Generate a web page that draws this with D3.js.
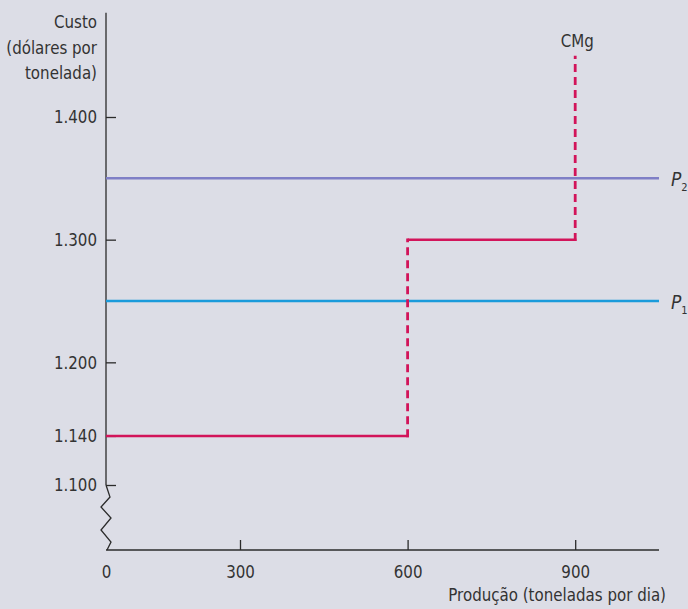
<!DOCTYPE html>
<html><head><meta charset="utf-8">
<script src="https://cdn.jsdelivr.net/npm/d3@7"></script>
<style>
html,body{margin:0;padding:0;background:#dcdde6;}
svg{display:block;}
text{font-family:"Liberation Sans Narrow","DejaVu Sans Condensed","Liberation Sans",sans-serif;fill:#333;}
</style></head><body>
<script>
// Data
const xTicks = [0, 300, 600, 900];
const xTickLabels = ["0", "300", "600", "900"];
const yTicks = [1.100, 1.140, 1.200, 1.300, 1.400];
const yTickLabels = ["1.100", "1.140", "1.200", "1.300", "1.400"];
const priceNames = ["P2", "P1"];
const priceValues = [1.350, 1.250];
const mcX = [0, 600, 900];          // step starts
const mcY = [1.140, 1.300, 1.450];  // marginal cost levels

const W = 688, H = 609;
const svg = d3.select("body").append("svg").attr("width", W).attr("height", H);

// x axis has a compressed first segment (origin labelled 0)
const x = d3.scaleLinear().domain([0, 300, 1050]).range([106, 240, 659]);
const y = d3.scaleLinear().domain([1.1, 1.4]).range([485, 117]);
const yTop = 1.485, yAxisBottom = 550;

const ink = "#2b2b2b";

// y axis line (above break)
svg.append("line").attr("x1", x(0)).attr("x2", x(0)).attr("y1", y(yTop)).attr("y2", y(1.1))
  .attr("stroke", ink).attr("stroke-width", 1.3);
// zigzag break
const zz = [[0,0],[4,12],[-5,22],[5,33],[-5,45],[5,57],[1,65]];
svg.append("path")
  .attr("d", d3.line()(zz.map(p => [x(0) + p[0], y(1.1) + p[1]])))
  .attr("fill", "none").attr("stroke", ink).attr("stroke-width", 1.3);

// x axis
const xAxis = d3.axisBottom(x).tickValues(xTicks).tickFormat((d,i) => xTickLabels[i]).tickSize(0).tickPadding(15);
const gx = svg.append("g").attr("transform", `translate(0,${yAxisBottom})`).call(xAxis);
gx.select(".domain").attr("stroke", ink).attr("stroke-width", 1.3).attr("d", `M${x(0)},0H${x(1050)}`);
gx.selectAll(".tick text").style("font-size", "18px").attr("fill", "#333").attr("font-family", null);
gx.selectAll(".tick").filter(d => d !== 0).append("line").attr("y1", 0).attr("y2", -10).attr("stroke", ink).attr("stroke-width", 1.3);

// y axis ticks
const yAxis = d3.axisLeft(y).tickValues(yTicks).tickFormat((d,i) => yTickLabels[i]).tickSize(0).tickPadding(9);
const gy = svg.append("g").attr("transform", `translate(${x(0)},0)`).call(yAxis);
gy.select(".domain").remove();
gy.selectAll(".tick text").style("font-size", "18px").attr("fill", "#333").attr("font-family", null);
gy.selectAll(".tick").append("line").attr("x1", 0).attr("x2", 10).attr("stroke", ink).attr("stroke-width", 1.3);

// y title
const yt = svg.append("text").attr("text-anchor", "end").style("font-size", "18px");
["Custo", "(dólares por", "tonelada)"].forEach((t, i) => {
  yt.append("tspan").attr("x", 97).attr("y", 28 + i * 25.5).text(t);
});
// x title
svg.append("text").attr("x", 666).attr("y", 601).attr("text-anchor", "end").style("font-size", "18px")
  .text("Produção (toneladas por dia)");

// price lines
const priceColors = ["#7f7fc6", "#1b9bdb"];
priceValues.forEach((v, i) => {
  svg.append("line").attr("x1", x(0)).attr("x2", x(1050)).attr("y1", y(v)).attr("y2", y(v))
    .attr("stroke", priceColors[i]).attr("stroke-width", 2.5);
  const t = svg.append("text").attr("class", "plab").attr("x", x(1050) + 12).attr("y", y(v) + 8).style("font-size", "19px");
  t.append("tspan").attr("font-style", "italic").text(priceNames[i][0]);
  t.append("tspan").attr("dy", 5).style("font-size", "11px").text(priceNames[i].slice(1));
});

// marginal cost
const red = "#d2145a";
for (let i = 0; i < mcX.length - 1; i++) {
  svg.append("line").attr("x1", x(mcX[i])).attr("x2", x(mcX[i+1]) + 1.25)
    .attr("y1", y(mcY[i])).attr("y2", y(mcY[i]))
    .attr("stroke", red).attr("stroke-width", 2.5);
}
for (let i = 1; i < mcX.length; i++) {
  svg.append("line").attr("x1", x(mcX[i])).attr("x2", x(mcX[i]))
    .attr("y1", y(mcY[i-1]) + 1.25).attr("y2", y(mcY[i]) - (i === mcX.length - 1 ? 0 : 1.25))
    .attr("stroke", red).attr("stroke-width", 2.8).attr("stroke-dasharray", "8,5");
}
svg.append("text").attr("x", x(900) + 2).attr("y", 47).attr("text-anchor", "middle").style("font-size", "18px").text("CMg");

// narrow the condensed fallback font horizontally to match the reference's narrow face
svg.selectAll("text").each(function() {
  if (this.classList.contains("plab")) return;
  const tsp = d3.select(this).selectAll("tspan");
  if (tsp.size()) {
    tsp.each(function() {
      const L = this.getComputedTextLength();
      d3.select(this).attr("textLength", L * 0.93).attr("lengthAdjust", "spacingAndGlyphs");
    });
  } else {
    const L = this.getComputedTextLength();
    d3.select(this).attr("textLength", L * 0.93).attr("lengthAdjust", "spacingAndGlyphs");
  }
});
</script>
</body></html>
